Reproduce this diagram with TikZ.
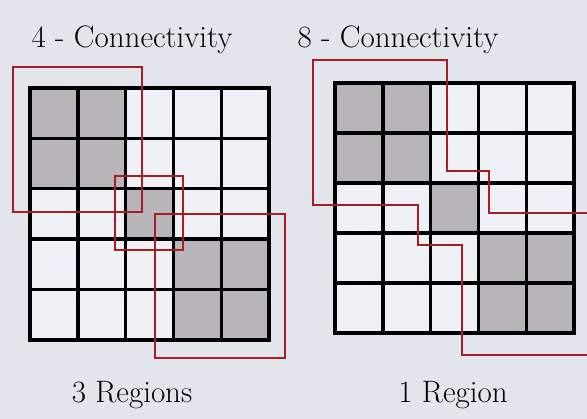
\documentclass[tikz,border=0pt]{standalone}
\definecolor{paper}{RGB}{226,229,236}
\definecolor{cellwhite}{RGB}{239,241,246}
\definecolor{cellgray}{RGB}{184,180,186}
\definecolor{regionred}{RGB}{165,30,34}
\begin{document}
\begin{tikzpicture}[x=1pt, y=-1pt,
  caption/.style={font=\fontsize{31}{35}\selectfont, anchor=base, inner sep=0pt},
  gridline/.style={line width=3.4pt, black, line cap=rect},
  region/.style={line width=2.6pt, regionred, line join=miter}]
\fill[paper, use as bounding box] (0,0) rectangle (587,419);
\clip (0,0) rectangle (587,419);
\def\cw{47.8}
% two 5x5 grids, same shaded pixels
\foreach \gx/\gy/\ch in {30/88/50.4, 335/83/50} {
  \begin{scope}[shift={(\gx,\gy)}]
    \fill[cellwhite] (0,0) rectangle (5*\cw,5*\ch);
    \foreach \c/\r in {0/0,1/0,0/1,1/1,2/2,3/3,4/3,3/4,4/4}
      \fill[cellgray] (\c*\cw,\r*\ch) rectangle ++(\cw,\ch);
    \foreach \i in {0,...,5} {
      \draw[gridline] (\i*\cw,0) -- (\i*\cw,5*\ch);
      \draw[gridline] (0,\i*\ch) -- (5*\cw,\i*\ch);
    }
  \end{scope}
}
% 4-connectivity: three regions
\draw[region] (13,67) rectangle (142,212);
\draw[region] (115,176) rectangle (183,250);
\draw[region] (155,214) rectangle (285,358);
% 8-connectivity: one region
\draw[region] (592,213) -- (489,213) -- (489,171) -- (447,171) -- (447,60)
  -- (313,60) -- (313,205) -- (418,205) -- (418,245) -- (462,245)
  -- (462,355) -- (592,355);
\node[caption] (title4) at (132,48) {4 - Connectivity};
\node[caption] (title8) at (398,48) {8 - Connectivity};
\node[caption] (count4) at (132,403) {3 Regions};
\node[caption] (count8) at (453,403) {1 Region};
\end{tikzpicture}
\end{document}
